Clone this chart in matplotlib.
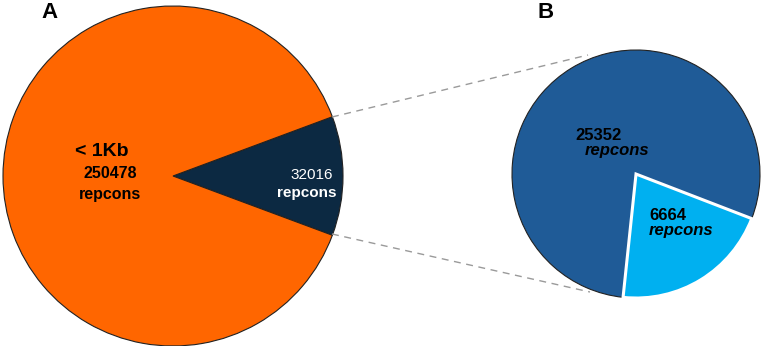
import matplotlib.pyplot as plt

plt.rcParams['font.family'] = ['Liberation Sans', 'DejaVu Sans']

# data
a_labels = ['>= 1Kb', '< 1Kb']
a_values = [32016, 250478]
a_colors = ['#0c2942', '#ff6600']

b_values = [6664, 25352]
b_colors = ['#00b0f0', '#1f5b97']

H = 346  # image height, text positions given from top

fig = plt.figure(figsize=(7.62, 3.46), dpi=100)
ax = fig.add_axes([0, 0, 1, 1])

# Pie A
ax.pie(a_values, colors=a_colors, center=(173, H - 176), radius=170,
       startangle=-20.4, counterclock=True,
       wedgeprops=dict(edgecolor='#222222', linewidth=0.8))

# Pie B
wb, _ = ax.pie(b_values, colors=b_colors, center=(636, H - 174), radius=124,
               startangle=-96, counterclock=True, explode=[0.05, 0],
               wedgeprops=dict(edgecolor='#222222', linewidth=0.8))
wb[0].set_edgecolor('white')
wb[0].set_linewidth(2.2)
wb[0].set_zorder(3)

# connecting dashed lines
ax.plot([332, 588], [H - 117, H - 55], ls=(0, (5, 4)), color='#9a9a9a', lw=1)
ax.plot([332, 590], [H - 234, H - 292], ls=(0, (5, 4)), color='#9a9a9a', lw=1)

# labels
ax.text(102, H - 152, '< 1Kb', ha='center', va='center', fontsize=14, fontweight='bold')
ax.text(110, H - 174, str(a_values[1]), ha='center', va='center', fontsize=11.5, fontweight='bold')
ax.text(110, H - 194, 'repcons', ha='center', va='center', fontsize=11.5, fontweight='bold')
ax.text(312, H - 175, str(a_values[0]), ha='center', va='center', fontsize=11, color='white')
ax.text(307, H - 193, 'repcons', ha='center', va='center', fontsize=11, fontweight='bold', color='white')

ax.text(599, H - 136, str(b_values[1]), ha='center', va='center', fontsize=12, fontweight='bold')
ax.text(617, H - 150, 'repcons', ha='center', va='center', fontsize=12, fontweight='bold', style='italic')
ax.text(668, H - 215, str(b_values[0]), ha='center', va='center', fontsize=12, fontweight='bold', zorder=5)
ax.text(681, H - 231, 'repcons', ha='center', va='center', fontsize=12, fontweight='bold', style='italic', zorder=5)

ax.text(50, H - 12, 'A', ha='center', va='center', fontsize=16, fontweight='bold')
ax.text(546, H - 12, 'B', ha='center', va='center', fontsize=16, fontweight='bold')

ax.set_xlim(0, 762)
ax.set_ylim(0, H)
ax.set_aspect('auto')
ax.axis('off')

fig.savefig('out.png', dpi=100)
